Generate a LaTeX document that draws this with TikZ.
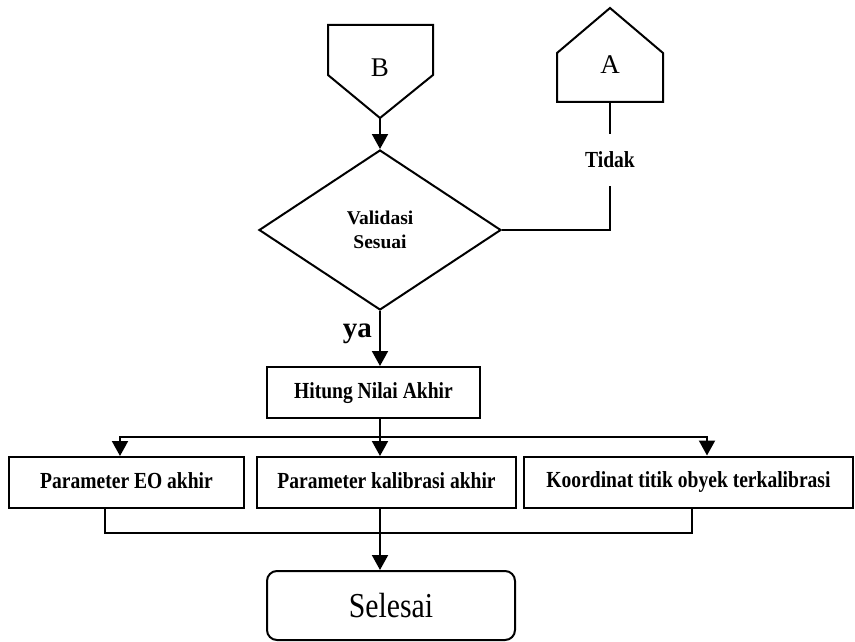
\documentclass[tikz,border=0pt]{standalone}
\usepackage{fontspec}
\setmainfont{Liberation Serif}
\newfontfamily\condfont[FakeStretch=0.85]{Liberation Serif}
\usetikzlibrary{shapes.geometric,arrows.meta}

\tikzstyle{proc} = [draw, line width=2pt, inner sep=0pt, minimum height=51pt, text height=15.5pt, text depth=4.5pt, font=\condfont\bfseries\fontsize{23}{26}\selectfont]
\tikzstyle{decision} = [diamond, draw, line width=2pt, inner sep=0pt, minimum width=242pt, minimum height=160pt, align=center, font=\bfseries\fontsize{19.5}{24}\selectfont]
\tikzstyle{term} = [draw, rounded corners=10pt, line width=2pt, minimum width=248pt, minimum height=69pt, font=\condfont\fontsize{35}{40}\selectfont]
\tikzstyle{letter} = [font=\fontsize{27}{30}\selectfont, inner sep=0pt]
\tikzstyle{conn} = [line width=2pt]
\tikzstyle{arr} = [line width=2pt, -{Triangle[width=16pt,length=15pt]}]

\begin{document}
\begin{tikzpicture}[x=1pt, y=-1pt]
\useasboundingbox (0,0) rectangle (855,642);
%begin connector-B
\draw[conn] (328,25) -- (433,25) -- (433,75) -- (380,118) -- (328,75) -- cycle;
\node[letter] (B) at (380,68) {B};
\coordinate (Btip) at (380,118);
%end connector-B
%begin connector-A
\draw[conn] (557,102) -- (557,53) -- (610,8) -- (663,53) -- (663,102) -- cycle;
\node[letter] (A) at (610,65) {A};
\coordinate (Abot) at (610,102);
%end connector-A
%begin validasi
\node[decision] (val) at (380,230) {Validasi\\Sesuai};
\draw[arr] (Btip) -- (val.north);
\node[font=\condfont\bfseries\fontsize{23}{26}\selectfont, inner sep=0pt, minimum height=52pt] (tdk) at (610,160) {Tidak};
\draw[conn] (Abot) -- (tdk.north);
\draw[conn] (val.east) -| (tdk.south);
%end validasi
%begin hitung
\node[proc, minimum width=213pt] (hit) at (373.5,392.5) {Hitung Nilai Akhir};
\draw[arr] (val.south) -- (val.south |- hit.north);
\node[font=\bfseries\fontsize{29}{30}\selectfont, inner sep=0pt, anchor=east] (ya) at (372,334) {ya};
%end hitung
%begin hasil
\node[proc, minimum width=235pt] (eo) at (126.5,482.5) {Parameter EO akhir};
\node[proc, minimum width=259pt] (kal) at (386.5,482.5) {Parameter kalibrasi akhir};
\node[proc, minimum width=329pt] (koor) at (688.5,482) {Koordinat titik obyek terkalibrasi};
\coordinate (br) at (380,437);
\coordinate (brL) at (120,437);
\coordinate (brR) at (707,437);
\draw[conn] (hit.south -| br) -- (br);
\draw[arr] (br) -| (eo.north -| brL);
\draw[arr] (br) -| (koor.north -| brR);
\draw[arr] (br) -- (br |- kal.north);
%end hasil
%begin selesai
\node[term] (sel) at (391,605.5) {Selesai};
\coordinate (mgL) at (105,533);
\coordinate (mg) at (380,533);
\coordinate (mgR) at (692,533);
\draw[conn] (eo.south -| mgL) |- (mgR) -- (koor.south -| mgR);
\draw[arr] (kal.south -| mg) -- (mg |- sel.north);
%end selesai
\end{tikzpicture}
\end{document}
